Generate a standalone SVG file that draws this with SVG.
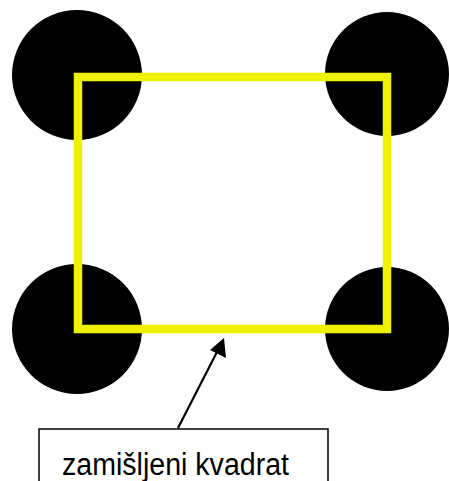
<svg xmlns="http://www.w3.org/2000/svg" width="449" height="481" viewBox="0 0 449 481">
<style>
.dot{fill:#000}
.sq{fill:none;stroke:#eef200;stroke-width:8.5;stroke-linejoin:miter}
.conn{stroke:#000;stroke-width:2.2;fill:none}
.box{fill:#fff;stroke:#000;stroke-width:1.5}
.lbl{font-family:"Liberation Sans",Arial,sans-serif;font-size:31px;fill:#000}
</style>
<rect width="449" height="481" fill="#fff"/>
<g id="dot-tl"><circle class="dot" cx="77" cy="75" r="65"/></g>
<g id="dot-tr"><circle class="dot" cx="387" cy="74" r="62"/></g>
<g id="dot-bl"><circle class="dot" cx="77" cy="329" r="65"/></g>
<g id="dot-br"><circle class="dot" cx="387" cy="329" r="62"/></g>
<g id="square"><rect class="sq" x="78" y="77" width="309" height="252"/></g>
<g id="connectors">
<line class="conn" x1="178" y1="428" x2="218" y2="350"/>
<path d="M224,338 L226,358 L210,350 z" fill="#000"/>
</g>
<g id="label">
<rect class="box" x="39" y="429" width="289" height="70"/>
<text class="lbl" x="62" y="475" textLength="227" lengthAdjust="spacingAndGlyphs">zamišljeni kvadrat</text>
</g>
</svg>
